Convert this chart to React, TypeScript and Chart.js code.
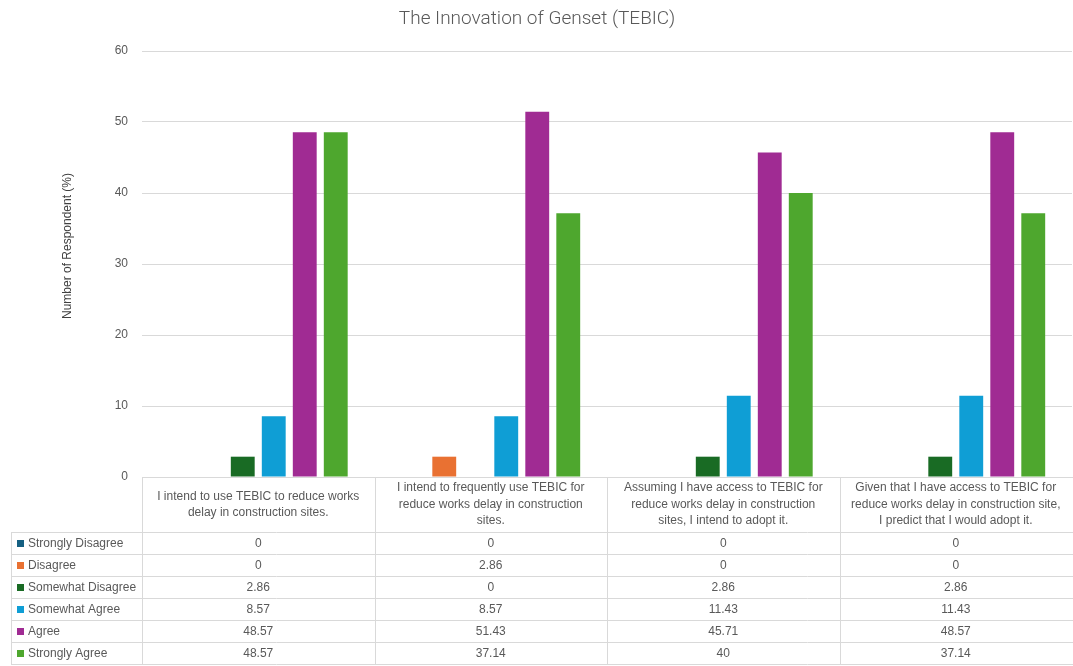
import React, { useEffect, useRef } from "react";
import { Chart, registerables } from "chart.js";

Chart.register(...registerables);

const chartTitle = "The Innovation of Genset (TEBIC)";
const yAxisTitle = "Number of Respondent (%)";

const categories: string[][] = [
  ["I intend to use TEBIC to reduce works", "delay in construction sites."],
  ["I intend to frequently use TEBIC for", "reduce works delay in construction", "sites."],
  ["Assuming I have access to TEBIC for", "reduce works delay in construction", "sites, I intend to adopt it."],
  ["Given that I have access to TEBIC for", "reduce works delay in construction site,", "I predict that I would adopt it."],
];

const seriesNames = [
  "Strongly Disagree",
  "Disagree",
  "Somewhat Disagree",
  "Somewhat Agree",
  "Agree",
  "Strongly Agree",
];

const stronglyDisagree = [0, 0, 0, 0];
const disagree = [0, 2.86, 0, 0];
const somewhatDisagree = [2.86, 0, 2.86, 2.86];
const somewhatAgree = [8.57, 8.57, 11.43, 11.43];
const agree = [48.57, 51.43, 45.71, 48.57];
const stronglyAgree = [48.57, 37.14, 40, 37.14];

const seriesColors = ["#156082", "#E97132", "#196B24", "#0F9ED5", "#A02B93", "#4EA72E"];

const yMin = 0;
const yMax = 60;
const yStep = 10;

const FONT = "'Liberation Sans', Arial, sans-serif";
const TEXT = "#595959";
const LINE = "#d9d9d9";

const tablePlugin = {
  id: "tablePlugin",
  afterDraw(chart: any) {
    const ctx = chart.ctx;
    const area = chart.chartArea;
    const xs = chart.scales.x;
    const n = categories.length;
    const colW = (area.right - area.left) / n;
    const headerH = 55;
    const rowH = 22;
    const top = area.bottom;
    const legendLeft = 11;
    const tableRight = area.right + 1;
    ctx.save();

    // title
    ctx.fillStyle = TEXT;
    ctx.font = `300 19px Roboto, 'Noto Sans', sans-serif`;
    ctx.textAlign = "center";
    ctx.textBaseline = "middle";
    ctx.fillText(chartTitle, 537, 19);

    // y axis title
    ctx.save();
    ctx.translate(68, 246);
    ctx.rotate(-Math.PI / 2);
    ctx.fillStyle = "#404040";
    ctx.font = `12px ${FONT}`;
    ctx.fillText(yAxisTitle, 0, 0);
    ctx.restore();

    ctx.strokeStyle = LINE;
    ctx.lineWidth = 1;
    const hLine = (x1: number, x2: number, y: number) => {
      ctx.beginPath();
      ctx.moveTo(x1, Math.round(y) + 0.5);
      ctx.lineTo(x2, Math.round(y) + 0.5);
      ctx.stroke();
    };
    const vLine = (x: number, y1: number, y2: number) => {
      ctx.beginPath();
      ctx.moveTo(Math.round(x) + 0.5, y1);
      ctx.lineTo(Math.round(x) + 0.5, y2);
      ctx.stroke();
    };
    const nRows = chart.data.datasets.length;
    const bottom = top + headerH + nRows * rowH;
    // internal vertical lines (right edge is cut off)
    for (let i = 0; i < n; i++) {
      vLine(area.left + i * colW, top, bottom);
    }
    vLine(legendLeft, top + headerH, bottom);
    for (let r = 0; r <= nRows; r++) {
      hLine(legendLeft, tableRight, top + headerH + r * rowH);
    }
    hLine(area.left, tableRight, top);

    // header text
    ctx.fillStyle = TEXT;
    ctx.font = `12px ${FONT}`;
    ctx.textAlign = "center";
    ctx.textBaseline = "middle";
    const lh = 16.5;
    categories.forEach((lines, i) => {
      const cx = xs.getPixelForValue(i);
      const cy = top + headerH / 2;
      const start = cy - ((lines.length - 1) * lh) / 2;
      lines.forEach((l, k) => ctx.fillText(l, cx, start + k * lh));
    });

    // rows
    chart.data.datasets.forEach((ds: any, r: number) => {
      const cy = top + headerH + r * rowH + rowH / 2 + 0.5;
      ctx.fillStyle = ds.backgroundColor;
      ctx.fillRect(legendLeft + 6, cy - 3.5, 7, 7);
      ctx.fillStyle = TEXT;
      ctx.textAlign = "left";
      ctx.fillText(ds.label, legendLeft + 17, cy);
      ctx.textAlign = "center";
      ds.data.forEach((v: number, i: number) => {
        ctx.fillText(String(v), xs.getPixelForValue(i), cy);
      });
    });
    ctx.restore();
  },
};

export default function App() {
  const ref = useRef<HTMLCanvasElement | null>(null);
  useEffect(() => {
    if (!ref.current) return;
    const values = [stronglyDisagree, disagree, somewhatDisagree, somewhatAgree, agree, stronglyAgree];
    const chart = new Chart(ref.current, {
      type: "bar",
      data: {
        labels: categories,
        datasets: seriesNames.map((name, i) => ({
          label: name,
          data: values[i],
          backgroundColor: seriesColors[i],
          borderWidth: 0,
          categoryPercentage: 0.8,
          barPercentage: 0.77,
        })),
      },
      options: {
        responsive: false,
        animation: false,
        devicePixelRatio: 1,
        layout: { padding: { top: 51, bottom: 189, left: 0, right: 1 } },
        plugins: {
          legend: { display: false },
          title: { display: false },
          tooltip: { enabled: false },
        },
        scales: {
          x: { display: false },
          y: {
            min: yMin,
            max: yMax,
            ticks: {
              stepSize: yStep,
              padding: 14,
              color: TEXT,
              font: { family: FONT, size: 12 },
            },
            grid: { color: LINE, drawTicks: false, lineWidth: 1 },
            border: { display: false },
            afterFit(scale: any) {
              scale.width = 142;
            },
          },
        },
      },
      plugins: [tablePlugin],
    });
    return () => chart.destroy();
  }, []);
  return (
    <div style={{ position: "absolute", left: 0, top: 0, width: 1073, height: 666, background: "#fff" }}>
      <canvas ref={ref} width={1073} height={666} />
    </div>
  );
}
